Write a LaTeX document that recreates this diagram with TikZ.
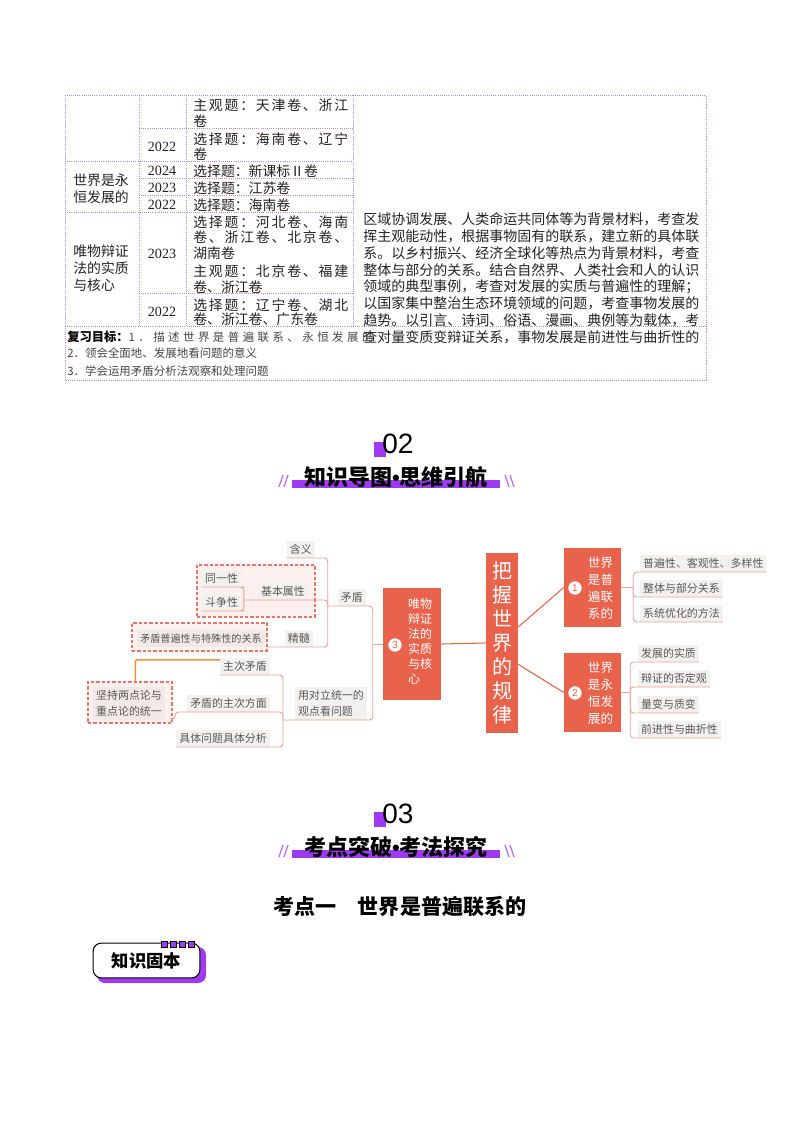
\documentclass[tikz,border=0pt]{standalone}
\usepackage{fontspec}
\setmainfont{Noto Sans CJK SC}
\newfontfamily\numfont{Liberation Serif}
\newfontfamily\digitsans{Liberation Sans}
\usetikzlibrary{positioning,fit,calc}
\definecolor{tabline}{RGB}{172,140,218}
\definecolor{tabtext}{RGB}{35,35,35}
\definecolor{goaltext}{RGB}{70,70,70}
\definecolor{mmred}{RGB}{232,98,76}
\definecolor{mmlink}{RGB}{236,160,146}
\definecolor{leafbg}{RGB}{243,241,240}
\definecolor{innerbg}{RGB}{241,233,231}
\definecolor{leaftext}{RGB}{88,88,88}
\definecolor{dashred}{RGB}{232,118,104}
\definecolor{dashbg}{RGB}{252,241,238}
\definecolor{relorange}{RGB}{240,145,62}
\definecolor{hdpurple}{RGB}{158,58,240}

\begin{document}
\begin{tikzpicture}[x=0.75pt,y=-0.75pt,
  tline/.style={draw=tabline,densely dotted,line width=0.6pt},
  ttext/.style={anchor=west,inner sep=0pt,text=tabtext,font=\fontsize{10.4}{12}\selectfont},
  tfill/.style={ttext,font=\fontsize{10.4}{12}\selectfont\addfontfeature{LetterSpace=13}},
  tyear/.style={inner sep=0pt,text=tabtext,font=\numfont\fontsize{10.6}{12}\selectfont},
  goal/.style={anchor=west,inner sep=0pt,text=goaltext,font=\fontsize{8.6}{10}\selectfont},
  leaf/.style={fill=leafbg,text=leaftext,font=\fontsize{8.2}{10}\selectfont,
               inner xsep=2.2pt,inner ysep=0pt,minimum height=12.5pt},
  twoline/.style={leaf,align=left,font=\fontsize{8.2}{12}\selectfont,inner ysep=2.5pt},
  link/.style={draw=mmlink,line width=0.7pt,rounded corners=2.5pt},
  mainlink/.style={draw=mmred,line width=0.8pt},
  redbox/.style={fill=mmred,inner sep=0pt},
  redtext/.style={text=white,align=left,inner sep=0pt},
  numdot/.style={circle,fill=white,text=mmred,inner sep=0pt,minimum size=10pt,
                 font=\digitsans\fontsize{7.5}{8}\selectfont},
  dashbox/.style={draw=dashred,dash pattern=on 2.5pt off 1.5pt,line width=0.8pt,
                  fill=dashbg,inner sep=0pt},
  relline/.style={draw=relorange,line width=1.1pt,rounded corners=1pt},
  hdnum/.style={inner sep=0pt,font=\digitsans\fontsize{21}{21}\selectfont},
  hdtitle/.style={inner sep=0pt,font=\bfseries\fontsize{16.5}{17}\selectfont}
]
  \fill[white] (0,0) rectangle (800,1132);
  \useasboundingbox (0,0) rectangle (800,1132);

  % ---- exam table ----
  \draw[tline] (65,95) rectangle (706,380);
  \draw[tline] (65,326) -- (706,326);
  \draw[tline] (139,95) -- (139,326) (186,95) -- (186,326) (353,95) -- (353,326);
  \draw[tline] (139,128) -- (353,128) (65,161) -- (353,161) (139,178) -- (353,178)
               (139,195) -- (353,195) (65,212) -- (353,212) (139,293) -- (353,293);

  \node[ttext] (c1a) at (73,180) {世界是永};
  \node[ttext] (c1b) at (73,197) {恒发展的};
  \node[ttext] (c1c) at (73,251) {唯物辩证};
  \node[ttext] (c1d) at (73,268) {法的实质};
  \node[ttext] (c1e) at (73,285) {与核心};

  \node[tyear] (yr1) at (162,147) {2022};
  \node[tyear] (yr2) at (162,171) {2024};
  \node[tyear] (yr3) at (162,188) {2023};
  \node[tyear] (yr4) at (162,205) {2022};
  \node[tyear] (yr5) at (162,254) {2023};
  \node[tyear] (yr6) at (162,312) {2022};

  \node[tfill] (a1) at (193,105) {主观题：天津卷、浙江};
  \node[ttext] (a2) at (193,121) {卷};
  \node[tfill] (a3) at (193,139) {选择题：海南卷、辽宁};
  \node[ttext] (a4) at (193,154) {卷};
  \node[ttext] (a5) at (193,171) {选择题：新课标Ⅱ卷};
  \node[ttext] (a6) at (193,188) {选择题：江苏卷};
  \node[ttext] (a7) at (193,205) {选择题：海南卷};
  \node[tfill] (a8) at (193,222) {选择题：河北卷、海南};
  \node[tfill] (a9) at (193,237) {卷、浙江卷、北京卷、};
  \node[ttext] (a10) at (193,253) {湖南卷};
  \node[tfill] (a11) at (193,271) {主观题：北京卷、福建};
  \node[ttext] (a12) at (193,287) {卷、浙江卷};
  \node[tfill] (a13) at (193,305) {选择题：辽宁卷、湖北};
  \node[ttext] (a14) at (193,319) {卷、浙江卷、广东卷};

  \foreach \t [count=\i from 0] in {区域协调发展、人类命运共同体等为背景材料，考查发,
      挥主观能动性，根据事物固有的联系，建立新的具体联,
      系。以乡村振兴、经济全球化等热点为背景材料，考查,
      整体与部分的关系。结合自然界、人类社会和人的认识,
      领域的典型事例，考查对发展的实质与普遍性的理解；,
      以国家集中整治生态环境领域的问题，考查事物发展的,
      趋势。以引言、诗词、俗语、漫画、典例等为载体，考,
      查对量变质变辩证关系，事物发展是前进性与曲折性的}
    \node[ttext,font=\fontsize{10.5}{12}\selectfont] (note\i) at (363,219+16.9*\i) {\t};

  \node[goal] (goal1) at (67,337) {{\color{black}\bfseries\fontsize{9.2}{11}\selectfont 复习目标：}{\addfontfeature{LetterSpace=30}1．描述世界是普遍联系、永恒发展的}};
  \node[goal] (goal2) at (67,353) {2．领会全面地、发展地看问题的意义};
  \node[goal] (goal3) at (67,371) {3．学会运用矛盾分析法观察和处理问题};

  % ---- section headings ----
  \foreach \num/\ttl/\dy in {02/知识导图{\digitsans •}思维引航/0,03/考点突破{\digitsans •}考法探究/370}{
    \fill[hdpurple] (374,442+\dy) rectangle (386,457+\dy);
    \fill[hdpurple] (292,480+\dy) rectangle (500,488+\dy);
    \draw[hdpurple!70,line width=1pt] (279,487+\dy) -- (283,475+\dy) (284,487+\dy) -- (288,475+\dy)
                                      (505,475+\dy) -- (509,487+\dy) (510,475+\dy) -- (514,487+\dy);
    \node[hdnum] (num\num) at (398,444+\dy) {\num};
    \node[hdtitle] (ttl\num) at (396,477+\dy) {\ttl};
  }

  % ---- mind map ----
  \node[redbox,fit={(486,553) (518,733)}] (law) {};
  \node[redtext,align=center,font=\fontsize{15}{18}\selectfont] (lawlbl) at (law.center) {把\\握\\世\\界\\的\\规\\律};

  \node[redbox,fit={(383,588) (441,700)}] (n3) {};
  \node[numdot] (dot3) at (395,645) {3};
  \node[redtext,font=\fontsize{9}{11.25}\selectfont] (n3lbl) at (420,641) {唯物\\辩证\\法的\\实质\\与核\\心};

  \node[redbox,fit={(564,548) (621,627)}] (n1) {};
  \node[numdot] (dot1) at (575,588) {1};
  \node[redtext,font=\fontsize{9.4}{12.75}\selectfont] (n1lbl) at (600.5,588.5) {世界\\是普\\遍联\\系的};

  \node[redbox,fit={(564,653) (621,732)}] (n2) {};
  \node[numdot] (dot2) at (575,693) {2};
  \node[redtext,font=\fontsize{9.4}{12.75}\selectfont] (n2lbl) at (600.5,693.5) {世界\\是永\\恒发\\展的};

  \draw[mainlink] (n3.east) -- (law.west);
  \draw[mainlink] ([yshift=12pt]law.east) -- (n1.west);
  \draw[mainlink] ([yshift=-16pt]law.east) -- (n2.west);

  % right branches
  \node[leaf,anchor=south west] (u1) at (640,572) {普遍性、客观性、多样性};
  \node[leaf,anchor=south west] (u2) at (640,597) {整体与部分关系};
  \node[leaf,anchor=south west] (u3) at (640,622) {系统优化的方法};
  \coordinate (n1j) at ($(n1.east)+(12,0)$);
  \draw[link] (n1.east) -- (n1j);
  \foreach \k in {u1,u2,u3}
    \draw[link] (n1j) |- (\k.south west) -- (\k.south east);

  \node[leaf,anchor=south west] (v1) at (638,662) {发展的实质};
  \node[leaf,anchor=south west] (v2) at (638,687) {辩证的否定观};
  \node[leaf,anchor=south west] (v3) at (638,713) {量变与质变};
  \node[leaf,anchor=south west] (v4) at (638,738) {前进性与曲折性};
  \coordinate (n2j) at ($(n2.east)+(9,0)$);
  \draw[link] (n2.east) -- (n2j);
  \foreach \k in {v1,v2,v3,v4}
    \draw[link] (n2j) |- (\k.south west) -- (\k.south east);

  % left branches
  \node[dashbox,fit={(197,565) (315,617)}] (attrgrp) {};
  \node[dashbox,fit={(132,623) (267,651)}] (relgrp) {};
  \node[dashbox,fit={(88,682) (172,723)}] (keygrp) {};

  \node[leaf,anchor=south east] (mao) at (366,606) {矛盾};
  \node[leaf,anchor=south east] (hanyi) at (315,558) {含义};
  \node[leaf,anchor=south east] (jbsx) at (308,600) {基本属性};
  \node[leaf,anchor=south west] (tyx) at (202,587) {同一性};
  \node[leaf,anchor=south west] (dzx) at (202,611) {斗争性};
  \node[leaf,anchor=south east] (jingsui) at (313,647) {精髓};
  \node[leaf,anchor=south west,fill=innerbg,font=\fontsize{7.6}{9}\selectfont] (rel) at (137,647) {矛盾普遍性与特殊性的关系};

  \node[twoline,anchor=south east] (view) at (367,720) {用对立统一的\\观点看问题};
  \node[leaf,anchor=south east] (zhuci) at (270,675) {主次矛盾};
  \node[leaf,anchor=south east] (zcfm) at (270,712) {矛盾的主次方面};
  \node[leaf,anchor=south east] (jtfx) at (270,747) {具体问题具体分析};
  \node[twoline,anchor=south west,fill=innerbg] (keep) at (93,720) {坚持两点论与\\重点论的统一};

  \coordinate (n3j) at ($(n3.west)+(-10,0)$);
  \coordinate (maoj) at ($(mao.south west)+(-10,0)$);
  \coordinate (jbj) at ($(jbsx.south west)+(-14,0)$);
  \coordinate (viewj) at ($(view.south west)+(-12,0)$);

  \draw[link] (n3.west) -- (n3j);
  \draw[link] (n3j) |- (mao.south east) -- (mao.south west) -- (maoj);
  \draw[link] (n3j) |- (view.south east) -- (view.south west) -- (viewj);

  \draw[link] (maoj) |- (hanyi.south east) -- (hanyi.south west);
  \draw[link] (maoj) |- (jbsx.south east) -- (jbsx.south west) -- (jbj);
  \draw[link] (maoj) |- (jingsui.south east) -- (jingsui.south west) -- (jingsui.south west -| relgrp.east);
  \draw[link] (jbj) |- (tyx.south east) -- (tyx.south west);
  \draw[link] (jbj) |- (dzx.south east) -- (dzx.south west);

  \draw[link] (viewj) |- (zhuci.south east) -- (zhuci.south west);
  \draw[link] (viewj) |- (zcfm.south east) -- (zcfm.south west) -- ++(-12,0) |- ([yshift=3pt]keygrp.south east);
  \draw[link] (viewj) |- (jtfx.south east) -- (jtfx.south west);
  \draw[relline] ([yshift=-1.5pt]zhuci.north west) -| ([xshift=4pt]keygrp.north);

  % ---- topic title and badge ----
  \node[font=\bfseries\fontsize{15.8}{16}\selectfont,inner sep=0pt] (topic1) at (400,907) {考点一　世界是普遍联系的};

  \fill[hdpurple,rounded corners=6pt] (97,947) rectangle (206,983);
  \node[draw=black,fill=white,line width=0.8pt,rounded corners=6pt,minimum width=80pt,
        minimum height=26pt,font=\bfseries\fontsize{13}{13}\selectfont] (badge) at (146.5,960.5) {知识固本};
  \foreach \i in {0,...,3}
    \draw[fill=hdpurple,line width=0.5pt] (161+9*\i,941) rectangle (167+9*\i,947);
\end{tikzpicture}
\end{document}
